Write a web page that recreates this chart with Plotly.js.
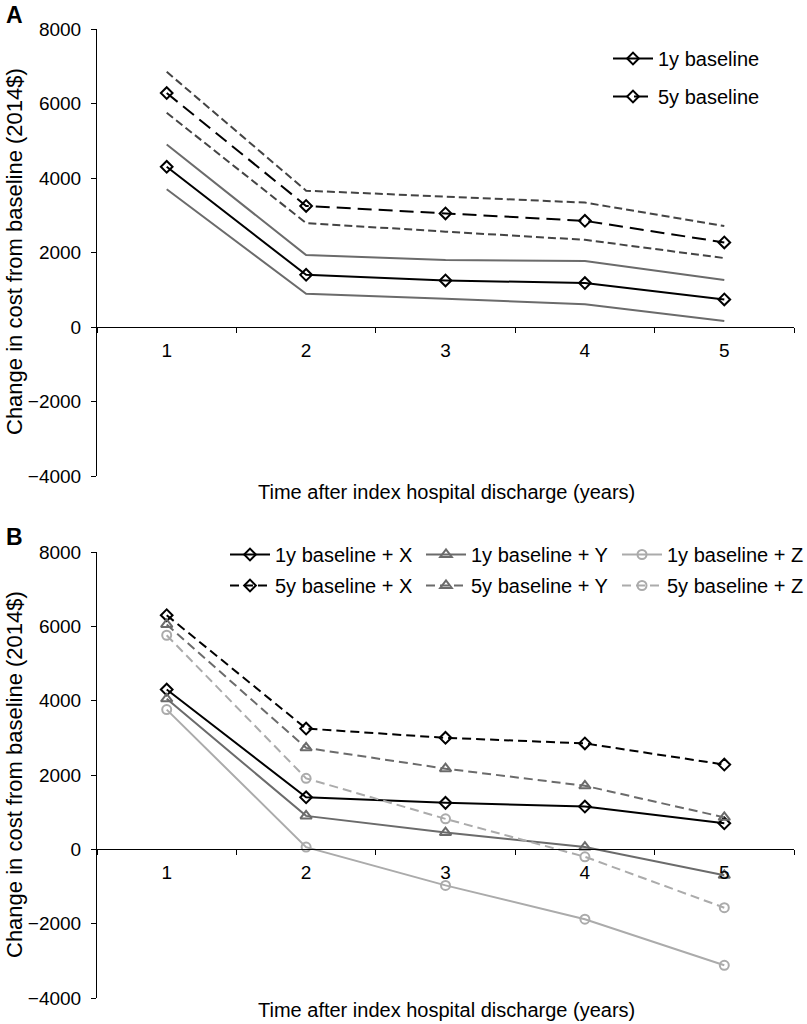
<!DOCTYPE html>
<html>
<head>
<meta charset="utf-8">
<script src="https://cdn.plot.ly/plotly-3.0.1.min.js"></script>
<style>html,body{margin:0;padding:0;background:#fff;}#chart{width:807px;height:1024px;}</style>
</head>
<body>
<div id="chart"></div>
<script>
// ---- data ----
const years = ['1', '2', '3', '4', '5'];
const yTicks = [-4000, -2000, 0, 2000, 4000, 6000, 8000];

// Panel A
const a1y      = [4300, 1400, 1250, 1180, 740];
const a1yUpper = [4900, 1930, 1800, 1770, 1260];
const a1yLower = [3700, 890, 760, 610, 160];
const a5y      = [6280, 3250, 3050, 2850, 2270];
const a5yUpper = [6850, 3660, 3500, 3340, 2710];
const a5yLower = [5750, 2790, 2560, 2340, 1850];

// Panel B
const b1yX = [4300, 1400, 1250, 1150, 700];
const b5yX = [6300, 3250, 3000, 2850, 2280];
const b1yY = [4050, 900, 450, 60, -700];
const b5yY = [6050, 2730, 2170, 1710, 860];
const b1yZ = [3760, 60, -970, -1880, -3120];
const b5yZ = [5760, 1910, 820, -200, -1570];

const labelsA = ['1y baseline', '5y baseline'];
const labelsB = ['1y baseline + X', '5y baseline + X', '1y baseline + Y', '5y baseline + Y', '1y baseline + Z', '5y baseline + Z'];
const xTitle = 'Time after index hospital discharge (years)';
const yTitle = 'Change in cost from baseline (2014$)';

// ---- layout helpers ----
const W = 807, H = 1024;
const M = {l: 97, r: 13, t: 29, b: 26, autoexpand: false};
const PW = W - M.l - M.r, PH = H - M.t - M.b;
const px2x = p => (p - M.l) / PW;
const py2y = p => (H - M.b - p) / PH;
const yRange = [-4000, 8000];
const domA = [py2y(476), py2y(29)];
const domB = [py2y(998), py2y(552)];
const zeroPos = d => d[0] + (0 - yRange[0]) / (yRange[1] - yRange[0]) * (d[1] - d[0]);

const FONT = 'Liberation Sans, Arial, Helvetica, sans-serif';
const BLACK = '#000000', MID = '#6b6b6b', DARKG = '#444444', LIGHT = '#ababab';

function tr(y, xa, ya, name, color, dash, symbol, msize, legend, showleg, mode) {
  return {
    x: years, y: y, xaxis: xa, yaxis: ya, name: name, type: 'scatter',
    mode: mode || 'lines+markers',
    line: {color: color, width: 2, dash: dash},
    marker: {symbol: symbol, size: msize, color: color, line: {color: color, width: 2}},
    legend: legend, showlegend: showleg, legendgroup: name,
    hoverinfo: 'x+y'
  };
}

const traces = [
  // Panel A confidence lines
  tr(a1yUpper, 'x', 'y', 'a1u', MID, 'solid', 'circle', 1, 'legend', false, 'lines'),
  tr(a1yLower, 'x', 'y', 'a1l', MID, 'solid', 'circle', 1, 'legend', false, 'lines'),
  tr(a5yUpper, 'x', 'y', 'a5u', DARKG, '8px,4px', 'circle', 1, 'legend', false, 'lines'),
  tr(a5yLower, 'x', 'y', 'a5l', DARKG, '8px,4px', 'circle', 1, 'legend', false, 'lines'),
  // Panel A main
  tr(a1y, 'x', 'y', labelsA[0], BLACK, 'solid', 'diamond-open', 9, 'legend', true),
  tr(a5y, 'x', 'y', labelsA[1], BLACK, '14px,7px', 'diamond-open', 9, 'legend', true),
  // Panel B
  tr(b1yX, 'x2', 'y2', labelsB[0], BLACK, 'solid', 'diamond-open', 9, 'legend2', true),
  tr(b5yX, 'x2', 'y2', labelsB[1], BLACK, '9px,5px', 'diamond-open', 9, 'legend2', true),
  tr(b1yY, 'x2', 'y2', labelsB[2], MID, 'solid', 'triangle-up-open', 10, 'legend3', true),
  tr(b5yY, 'x2', 'y2', labelsB[3], MID, '9px,5px', 'triangle-up-open', 10, 'legend3', true),
  tr(b1yZ, 'x2', 'y2', labelsB[4], LIGHT, 'solid', 'circle-open', 9, 'legend4', true),
  tr(b5yZ, 'x2', 'y2', labelsB[5], LIGHT, '9px,5px', 'circle-open', 9, 'legend4', true)
];

function xax(pos) {
  return {
    type: 'category', range: [-0.5, 4.5], anchor: 'free', position: pos,
    domain: [0, 1], showline: true, linecolor: '#000', linewidth: 1,
    ticks: 'outside', tickson: 'boundaries', ticklen: 5, tickcolor: '#000', tickwidth: 1,
    showgrid: false, zeroline: false, ticklabelstandoff: 6, automargin: false,
    tickfont: {family: FONT, size: 19, color: '#000'}, fixedrange: true
  };
}
function yax(dom, anchor) {
  return {
    domain: dom, anchor: anchor, range: yRange, tickmode: 'array', tickvals: yTicks,
    showline: true, linecolor: '#000', linewidth: 1,
    ticks: 'outside', ticklen: 5, tickcolor: '#000', tickwidth: 1,
    showgrid: false, zeroline: false, ticklabelstandoff: 6, automargin: false,
    tickfont: {family: FONT, size: 19, color: '#000'}, fixedrange: true
  };
}
function leg(xp, yp, gap) {
  return {
    x: px2x(xp), y: py2y(yp), xanchor: 'left', yanchor: 'top',
    bgcolor: 'rgba(0,0,0,0)', borderwidth: 0, tracegroupgap: gap,
    font: {family: FONT, size: 20, color: '#000'}, itemwidth: 40,
    orientation: 'v', traceorder: 'grouped'
  };
}
function ann(text, xp, yp, opts) {
  return Object.assign({
    text: text, xref: 'paper', yref: 'paper', x: px2x(xp), y: py2y(yp),
    xanchor: 'center', yanchor: 'middle', showarrow: false,
    font: {family: FONT, size: 20, color: '#000'}
  }, opts || {});
}

const layout = {
  width: W, height: H, margin: M,
  paper_bgcolor: '#fff', plot_bgcolor: 'rgba(0,0,0,0)',
  font: {family: FONT, color: '#000'},
  xaxis: xax(zeroPos(domA)),
  yaxis: yax(domA, 'x'),
  xaxis2: xax(zeroPos(domB)),
  yaxis2: yax(domB, 'x2'),
  legend: leg(608, 39, 9),
  legend2: leg(225, 535, 2),
  legend3: leg(421, 535, 2),
  legend4: leg(617, 535, 2),
  annotations: [
    ann('<b>A</b>', 14, 15, {font: {family: FONT, size: 23, color: '#000'}}),
    ann('<b>B</b>', 14, 537, {font: {family: FONT, size: 23, color: '#000'}}),
    ann(xTitle, 446, 492),
    ann(xTitle, 446, 1010),
    ann(yTitle, 14, 252, {textangle: -90, font: {family: FONT, size: 22, color: '#000'}}),
    ann(yTitle, 14, 775, {textangle: -90, font: {family: FONT, size: 22, color: '#000'}})
  ],
  showlegend: true
};

Plotly.newPlot('chart', traces, layout, {staticPlot: true, displayModeBar: false});
</script>
</body>
</html>
